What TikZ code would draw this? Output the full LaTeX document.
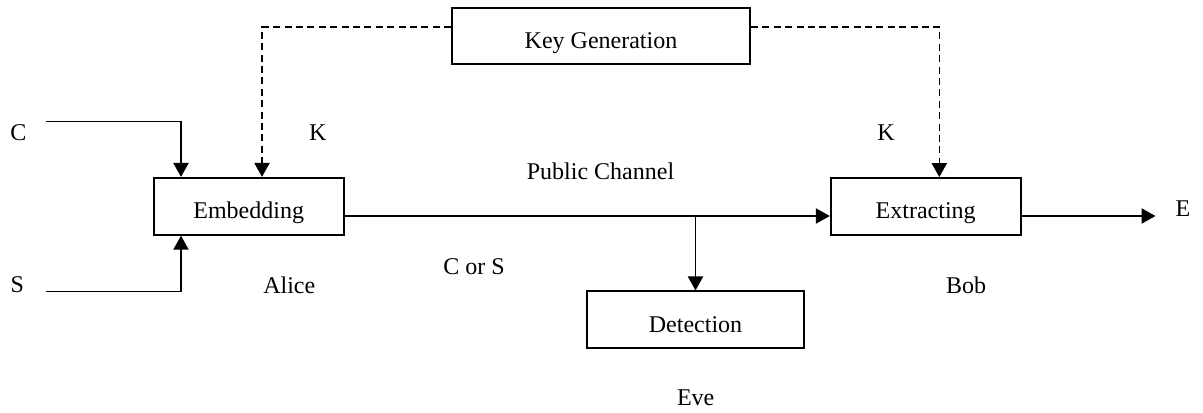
\documentclass[tikz,border=0pt]{standalone}
\usepackage{fontspec}
\setmainfont{Liberation Serif}
\usetikzlibrary{arrows.meta}
\begin{document}
\begin{tikzpicture}[x=0.5pt,y=-0.5pt,
  font=\fontsize{12}{14}\selectfont,
  line width=0.8pt,
  blk/.style={draw, line width=0.9pt, minimum height=28.5pt, inner sep=0pt, text height=12.3pt, text depth=0pt},
  lbl/.style={inner sep=0pt},
  arr/.style={-{Triangle[length=7pt,width=7.6pt]}},
  darr/.style={arr, dash pattern=on 3.5pt off 2.2pt},
  dline/.style={dash pattern=on 3.5pt off 2.2pt}]
\useasboundingbox (0,0) rectangle (1203,412);
% boxes
\node[blk, minimum width=149pt, minimum height=28.3pt] (kg) at (601,36) {Key Generation};
\node[blk, minimum width=95pt] (emb) at (248.7,206.3) {Embedding};
\node[blk, minimum width=95pt] (ext) at (925.7,206.5) {Extracting};
\node[blk, minimum width=108.5pt] (det) at (695.5,319.8) {Detection};
% helper coordinates
\coordinate (ch) at (0,216);
\coordinate (ky) at (0,27);
\coordinate (cx) at (181,0);
\coordinate (kx1) at (262,0);
\coordinate (kx2) at (939.3,0);
\coordinate (cin) at (46,121.5);
\coordinate (sin) at (46,291.5);
\coordinate (eend) at (1155.5,216);
% labels
\node[lbl] (lc) at (18.3,133) {C};
\node[lbl] (ls) at (17.3,285) {S};
\node[lbl] (lk1) at (317.7,133) {K};
\node[lbl] (lk2) at (886,133) {K};
\node[lbl] (lalice) at (289.3,285) {Alice};
\node[lbl] (lpc) at (600.5,171) {Public Channel};
\node[lbl] (lcs) at (474,267) {C or S};
\node[lbl] (lbob) at (966,285) {Bob};
\node[lbl] (leve) at (695.7,398) {Eve};
\node[lbl] (le) at (1183,209) {E};
% connectors
\draw[arr] (cin) -| (cx |- emb.north);
\draw[arr] (sin) -| (cx |- emb.south);
\draw[darr] (kg.west |- ky) -| (kx1 |- emb.north);
\draw[darr] (kg.east |- ky) -| (kx2 |- ext.north);
\draw[arr] (emb.east |- ch) -- (ext.west |- ch);
\draw[arr] (det.north |- ch) -- (det.north);
\draw[arr] (ext.east |- ch) -- (eend);
\end{tikzpicture}
\end{document}
